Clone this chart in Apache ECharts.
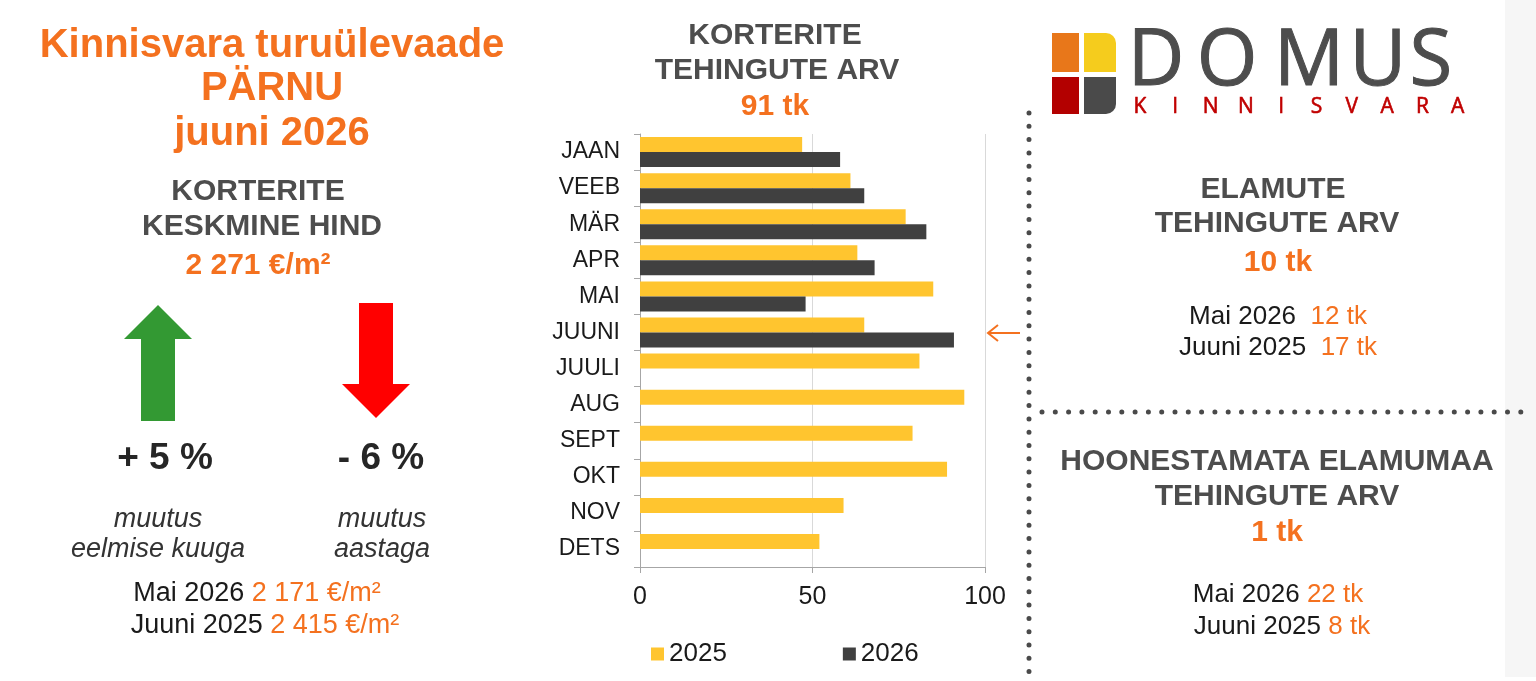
<!DOCTYPE html>
<html lang="et">
<head>
<meta charset="UTF-8">
<title>Kinnisvara turuülevaade PÄRNU juuni 2026</title>
<script src="https://cdn.jsdelivr.net/npm/echarts@6/dist/echarts.min.js"></script>
<style>
  html, body { margin: 0; padding: 0; background: #fff; }
  #chart { width: 1536px; height: 681px; }
</style>
</head>
<body>
<div id="chart"></div>
<script>
// korterite tehingute arv kuude kaupa
const months = ['JAAN', 'VEEB', 'MÄR', 'APR', 'MAI', 'JUUNI', 'JUULI', 'AUG', 'SEPT', 'OKT', 'NOV', 'DETS'];
const deals2025 = [47, 61, 77, 63, 85, 65, 81, 94, 79, 89, 59, 52];
const deals2026 = [58, 65, 83, 68, 48, 91, null, null, null, null, null, null];
const seriesNames = ['2025', '2026'];
const xMin = 0, xMax = 100, xStep = 50;

const FONT = '"Liberation Sans", Arial, sans-serif';
const ORANGE = '#f4711f';
const GREY = '#4d4d4d';
const BLACK = '#1a1a1a';

// väike abi tekstide jaoks
function txt(x, y, text, size, color, extra) {
    return {
        type: 'text', x: x, y: y, silent: true,
        style: Object.assign({
            text: text, fontSize: size, fill: color, fontFamily: FONT,
            align: 'center', verticalAlign: 'middle'
        }, extra || {})
    };
}
function bold(x, y, text, size, color) {
    return txt(x, y, text, size, color, { fontWeight: 'bold' });
}
function pair(x, y, a, b, size) {
    return txt(x, y, '{a|' + a + '} {b|' + b + '}', size, BLACK, {
        rich: {
            a: { fontSize: size, fill: BLACK, fontFamily: FONT },
            b: { fontSize: size, fill: ORANGE, fontFamily: FONT }
        }
    });
}
function dots(x1, y1, x2, y2) {
    return {
        type: 'line', silent: true,
        shape: { x1: x1, y1: y1, x2: x2, y2: y2 },
        style: { stroke: '#4a4a4a', lineWidth: 5, lineCap: 'round', lineDash: [0, 13.3] }
    };
}

const graphics = [
    // taust paremal serval
    { type: 'rect', silent: true, shape: { x: 1505, y: 0, width: 31, height: 677 }, style: { fill: '#f6f6f6' } },

    // vasak paneel
    bold(272, 46, 'Kinnisvara turuülevaade', 40, ORANGE),
    bold(272, 89, 'PÄRNU', 40, ORANGE),
    bold(272, 134, 'juuni 2026', 40, ORANGE),
    bold(258, 192, 'KORTERITE', 30, GREY),
    bold(262, 227, 'KESKMINE HIND', 30, GREY),
    bold(258, 266, '2 271 €/m²', 30, ORANGE),
    {
        type: 'polygon', silent: true,
        shape: { points: [[158, 305], [192, 339], [175, 339], [175, 421], [141, 421], [141, 339], [124, 339]] },
        style: { fill: '#339933' }
    },
    {
        type: 'polygon', silent: true,
        shape: { points: [[359, 303], [393, 303], [393, 384], [410, 384], [376, 418], [342, 384], [359, 384]] },
        style: { fill: '#ff0000' }
    },
    bold(165, 459, '+ 5 %', 37, '#262626'),
    bold(381, 459, '- 6 %', 37, '#262626'),
    txt(158, 519, 'muutus', 27, '#333', { fontStyle: 'italic' }),
    txt(158, 549, 'eelmise kuuga', 27, '#333', { fontStyle: 'italic' }),
    txt(382, 519, 'muutus', 27, '#333', { fontStyle: 'italic' }),
    txt(382, 549, 'aastaga', 27, '#333', { fontStyle: 'italic' }),
    pair(257, 594, 'Mai 2026', '2 171 €/m²', 27),
    pair(265, 626, 'Juuni 2025', '2 415 €/m²', 27),

    // keskmine pealkiri
    bold(775, 36, 'KORTERITE', 30, GREY),
    bold(777, 71, 'TEHINGUTE ARV', 30, GREY),
    bold(775, 107, '91 tk', 30, ORANGE),
    {
        type: 'polyline', silent: true,
        shape: { points: [[998, 325], [988, 333], [998, 341]] },
        style: { stroke: ORANGE, lineWidth: 2, fill: null }
    },
    {
        type: 'line', silent: true,
        shape: { x1: 988, y1: 333, x2: 1020, y2: 333 },
        style: { stroke: ORANGE, lineWidth: 2 }
    },

    // punktiirjooned
    dots(1029, 113, 1029, 681),
    dots(1042, 412, 1524, 412),

    // logo
    { type: 'rect', silent: true, shape: { x: 1052, y: 33, width: 27, height: 39 }, style: { fill: '#e8771a' } },
    { type: 'rect', silent: true, shape: { x: 1084, y: 33, width: 32, height: 39, r: [0, 10, 0, 0] }, style: { fill: '#f5cc1d' } },
    { type: 'rect', silent: true, shape: { x: 1052, y: 77, width: 27, height: 37 }, style: { fill: '#b30000' } },
    { type: 'rect', silent: true, shape: { x: 1084, y: 77, width: 32, height: 37, r: [0, 0, 10, 0] }, style: { fill: '#4a4a4a' } },

    // parem ülemine
    bold(1273, 190, 'ELAMUTE', 30, GREY),
    bold(1277, 224, 'TEHINGUTE ARV', 30, GREY),
    bold(1278, 263, '10 tk', 30, ORANGE),
    pair(1278, 317, 'Mai 2026 ', '12 tk', 26),
    pair(1278, 348, 'Juuni 2025 ', '17 tk', 26),

    // parem alumine
    bold(1277, 462, 'HOONESTAMATA ELAMUMAA', 30, GREY),
    bold(1277, 497, 'TEHINGUTE ARV', 30, GREY),
    bold(1277, 533, '1 tk', 30, ORANGE),
    pair(1278, 595, 'Mai 2026', '22 tk', 26),
    pair(1282, 627, 'Juuni 2025', '8 tk', 26)
];

// DOMUS / KINNISVARA tähed ükshaaval (hõre kiri)
const domusX = [1156, 1227, 1309, 1378, 1431];
'DOMUS'.split('').forEach(function (ch, i) {
    graphics.push(txt(domusX[i], 63, ch, 78, '#4d4d4d', { fontFamily: '"Open Sans", sans-serif', stroke: '#4d4d4d', lineWidth: 1 }));
});
'KINNISVARA'.split('').forEach(function (ch, i) {
    graphics.push(txt(1140 + i * 35.3, 107, ch, 21, '#c00000', { fontFamily: '"Open Sans", sans-serif', stroke: '#c00000', lineWidth: 0.6 }));
});

const chart = echarts.init(document.getElementById('chart'));
chart.setOption({
    animation: false,
    backgroundColor: '#fff',
    textStyle: { fontFamily: FONT },
    grid: { left: 640, top: 134, right: 551, bottom: 114 },
    legend: {
        data: seriesNames,
        left: 646, top: 636,
        icon: 'rect', itemWidth: 13, itemHeight: 13, itemGap: 116,
        textStyle: { fontSize: 26, color: BLACK, fontFamily: FONT }
    },
    xAxis: {
        type: 'value', min: xMin, max: xMax, interval: xStep,
        axisLine: { show: true, lineStyle: { color: '#a6a6a6' } },
        axisTick: { show: true, length: 6, lineStyle: { color: '#a6a6a6' } },
        splitLine: { show: true, lineStyle: { color: '#d9d9d9' } },
        axisLabel: { fontSize: 25, color: BLACK, margin: 18, fontFamily: FONT }
    },
    yAxis: {
        type: 'category', data: months, inverse: true,
        axisLine: { show: true, lineStyle: { color: '#a6a6a6' } },
        axisTick: { show: true, length: 6, lineStyle: { color: '#a6a6a6' } },
        axisLabel: { fontSize: 23, color: BLACK, margin: 20, fontFamily: FONT }
    },
    series: [
        {
            name: seriesNames[0], type: 'bar', data: deals2025,
            barWidth: 15, barGap: '0%',
            itemStyle: { color: '#ffc52f' }
        },
        {
            name: seriesNames[1], type: 'bar', data: deals2026,
            barWidth: 15, barGap: '0%',
            itemStyle: { color: '#404040' }
        }
    ],
    graphic: graphics
});
</script>
</body>
</html>
